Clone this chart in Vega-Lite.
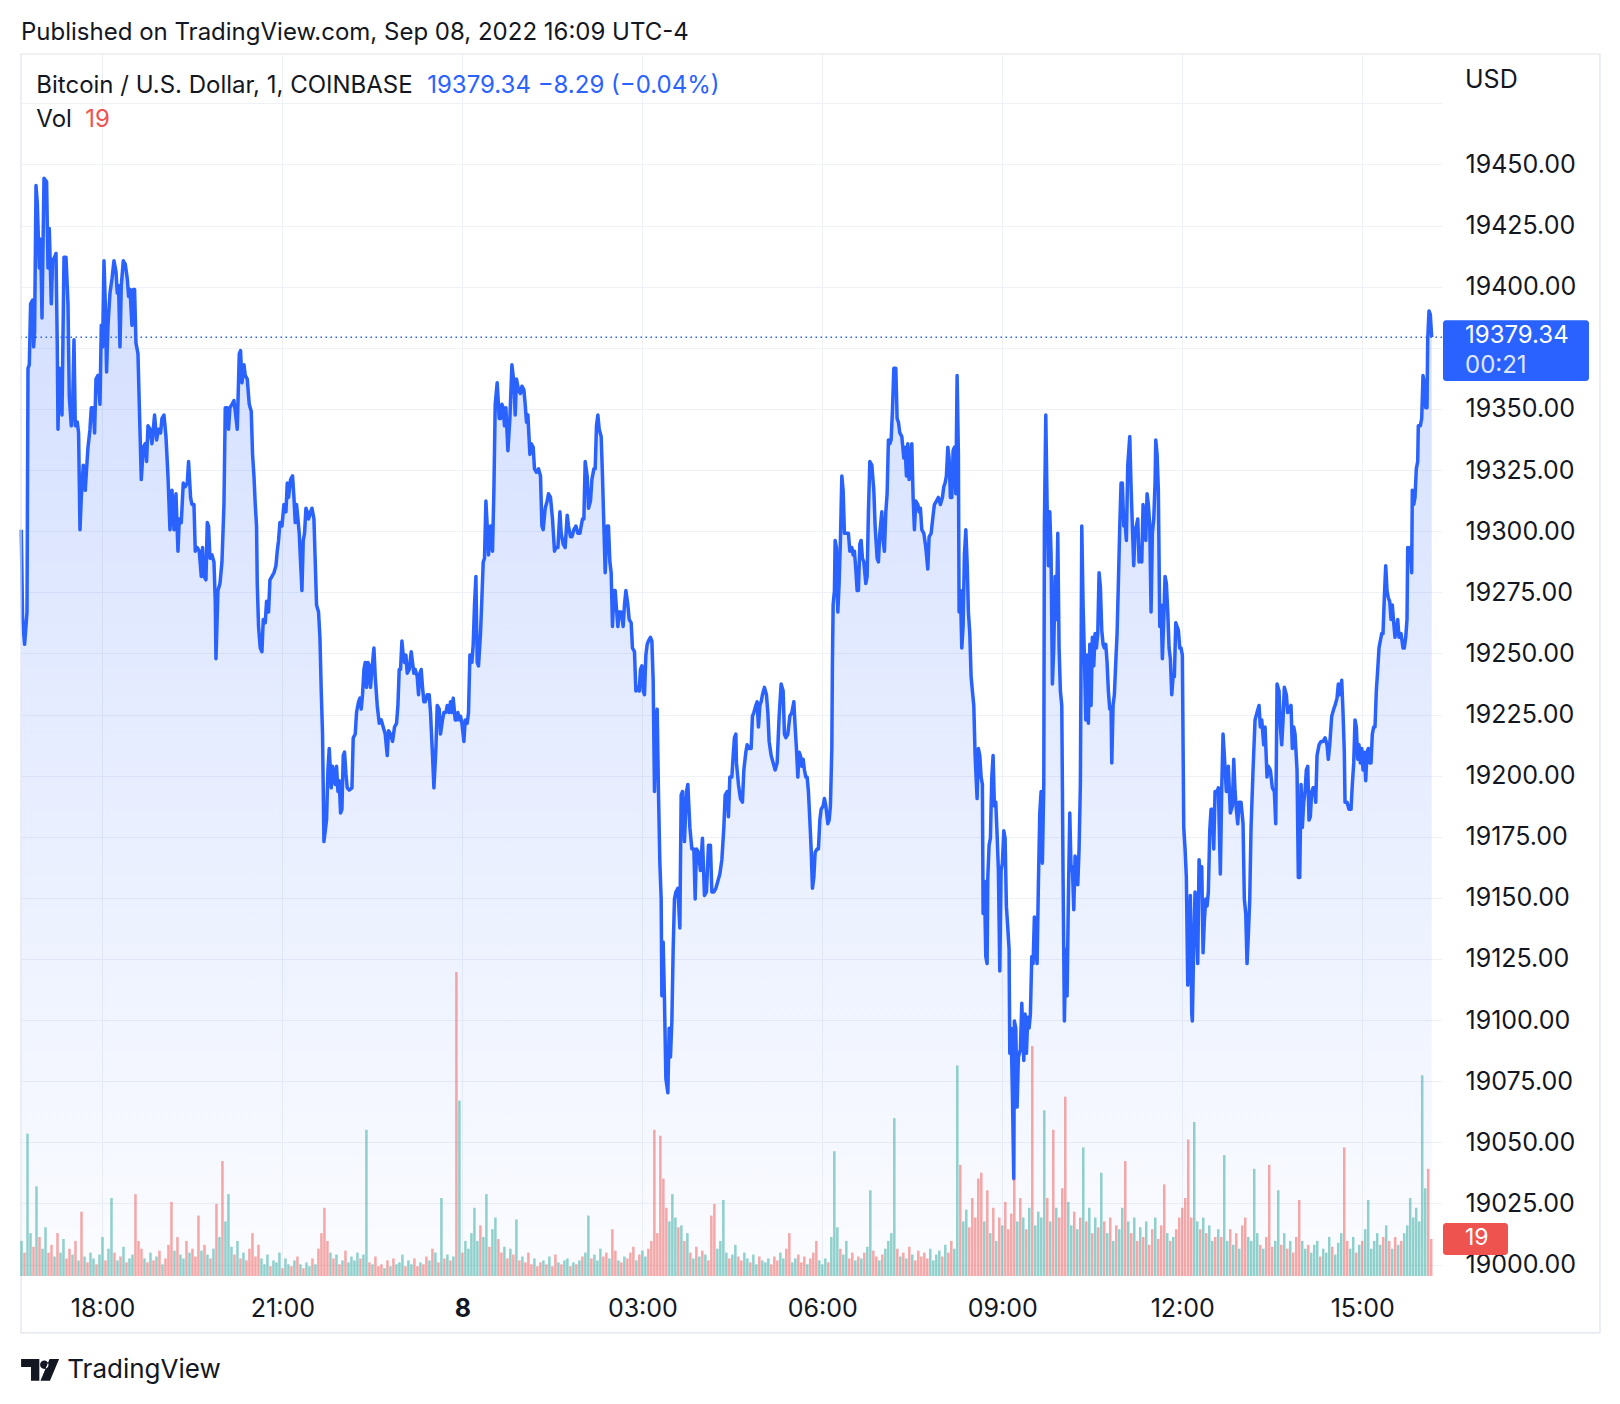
{
"$schema":"https://vega.github.io/schema/vega-lite/v6.json",
"width":1421,"height":1222,
"autosize":{"type":"none"},
"padding":{"left":21,"top":54,"right":178,"bottom":128},
"background":"#ffffff",
"config":{"font":"Inter","view":{"stroke":null},"scale":{"continuousPadding":0}},
"title":{"text":"Published on TradingView.com, Sep 08, 2022 16:09 UTC-4","anchor":"start","frame":"group","orient":"top","fontSize":24,"fontWeight":400,"color":"#131722","font":"Inter","baseline":"middle","offset":22,"dy":26},
"datasets":{
"price":[
{"t":998.8,"p":19300.6},{"t":1000.1,"p":19263.9},{"t":1002.1,"p":19253.7},{"t":1004.5,"p":19266.9},{"t":1005.5,"p":19366.6},{"t":1006.8,"p":19368.1},{"t":1008.1,"p":19393.0},{"t":1010.1,"p":19394.5},{"t":1011.1,"p":19375.4},{"t":1012.1,"p":19381.3},{"t":1013.5,"p":19441.4},{"t":1014.8,"p":19434.1},{"t":1016.8,"p":19407.7},{"t":1018.1,"p":19419.4},{"t":1019.5,"p":19387.2},{"t":1021.5,"p":19444.4},{"t":1024.1,"p":19442.9},{"t":1025.5,"p":19407.7},{"t":1026.8,"p":19423.8},{"t":1028.8,"p":19393.0},{"t":1030.1,"p":19410.6},{"t":1032.1,"p":19412.1},{"t":1033.5,"p":19413.6},{"t":1034.8,"p":19375.4},{"t":1035.5,"p":19341.7},{"t":1036.8,"p":19366.6},{"t":1038.1,"p":19363.7},{"t":1039.5,"p":19347.5},{"t":1041.5,"p":19412.1},{"t":1043.5,"p":19412.1},{"t":1045.5,"p":19393.0},{"t":1046.8,"p":19354.9},{"t":1048.8,"p":19343.1},{"t":1050.1,"p":19350.5},{"t":1051.5,"p":19378.3},{"t":1052.8,"p":19343.1},{"t":1054.8,"p":19344.6},{"t":1056.1,"p":19340.2},{"t":1057.5,"p":19300.6},{"t":1058.8,"p":19313.8},{"t":1060.8,"p":19327.0},{"t":1062.8,"p":19316.7},{"t":1064.1,"p":19325.5},{"t":1065.5,"p":19334.3},{"t":1067.5,"p":19341.7},{"t":1068.8,"p":19350.5},{"t":1070.8,"p":19350.5},{"t":1072.1,"p":19340.2},{"t":1073.5,"p":19362.2},{"t":1075.5,"p":19363.7},{"t":1077.5,"p":19351.9},{"t":1078.8,"p":19384.2},{"t":1080.1,"p":19375.4},{"t":1081.5,"p":19410.6},{"t":1082.8,"p":19393.0},{"t":1084.1,"p":19365.1},{"t":1085.5,"p":19384.2},{"t":1087.5,"p":19397.4},{"t":1089.5,"p":19403.3},{"t":1091.5,"p":19410.6},{"t":1093.5,"p":19406.2},{"t":1094.8,"p":19397.4},{"t":1096.1,"p":19400.4},{"t":1097.5,"p":19375.4},{"t":1098.8,"p":19400.4},{"t":1100.8,"p":19410.6},{"t":1102.8,"p":19409.2},{"t":1104.8,"p":19403.3},{"t":1106.1,"p":19396.0},{"t":1107.5,"p":19398.9},{"t":1109.5,"p":19384.2},{"t":1110.8,"p":19398.9},{"t":1112.1,"p":19398.9},{"t":1113.5,"p":19376.9},{"t":1115.5,"p":19372.5},{"t":1116.8,"p":19351.9},{"t":1118.8,"p":19321.1},{"t":1120.8,"p":19334.3},{"t":1122.8,"p":19335.8},{"t":1124.1,"p":19328.5},{"t":1125.5,"p":19343.1},{"t":1127.5,"p":19341.7},{"t":1129.5,"p":19335.8},{"t":1132.1,"p":19347.5},{"t":1134.1,"p":19337.3},{"t":1136.1,"p":19341.7},{"t":1138.1,"p":19340.2},{"t":1139.5,"p":19346.1},{"t":1141.5,"p":19347.5},{"t":1143.5,"p":19338.7},{"t":1145.5,"p":19322.6},{"t":1147.5,"p":19300.6},{"t":1149.5,"p":19316.7},{"t":1151.5,"p":19300.6},{"t":1153.5,"p":19315.3},{"t":1155.5,"p":19291.8},{"t":1156.8,"p":19305.0},{"t":1158.8,"p":19303.5},{"t":1160.8,"p":19319.7},{"t":1162.8,"p":19318.2},{"t":1164.8,"p":19319.7},{"t":1166.1,"p":19328.5},{"t":1168.1,"p":19313.8},{"t":1169.5,"p":19310.9},{"t":1171.5,"p":19310.9},{"t":1172.8,"p":19291.8},{"t":1174.8,"p":19293.3},{"t":1176.8,"p":19291.8},{"t":1178.8,"p":19281.5},{"t":1180.1,"p":19293.3},{"t":1181.5,"p":19281.5},{"t":1183.5,"p":19280.1},{"t":1184.8,"p":19303.5},{"t":1186.1,"p":19302.1},{"t":1187.5,"p":19288.9},{"t":1189.5,"p":19290.3},{"t":1191.5,"p":19287.4},{"t":1192.8,"p":19271.3},{"t":1193.5,"p":19247.8},{"t":1195.5,"p":19275.7},{"t":1197.5,"p":19278.6},{"t":1199.5,"p":19287.4},{"t":1201.5,"p":19310.9},{"t":1202.8,"p":19350.5},{"t":1204.8,"p":19350.5},{"t":1206.1,"p":19341.7},{"t":1207.5,"p":19350.5},{"t":1209.5,"p":19351.9},{"t":1211.5,"p":19353.4},{"t":1212.8,"p":19349.0},{"t":1214.8,"p":19341.7},{"t":1216.8,"p":19372.5},{"t":1218.1,"p":19373.9},{"t":1219.5,"p":19360.7},{"t":1221.5,"p":19368.1},{"t":1222.8,"p":19363.7},{"t":1224.8,"p":19362.2},{"t":1226.8,"p":19351.9},{"t":1228.8,"p":19349.0},{"t":1230.1,"p":19331.4},{"t":1231.5,"p":19322.6},{"t":1232.8,"p":19310.9},{"t":1234.1,"p":19302.1},{"t":1234.8,"p":19278.6},{"t":1236.1,"p":19261.0},
{"t":1237.8,"p":19252.2},{"t":1239.5,"p":19250.7},{"t":1240.8,"p":19263.9},{"t":1242.8,"p":19262.5},{"t":1244.1,"p":19271.3},{"t":1246.1,"p":19266.9},{"t":1247.5,"p":19280.1},{"t":1249.5,"p":19281.5},{"t":1251.5,"p":19283.0},{"t":1253.5,"p":19285.9},{"t":1254.8,"p":19291.8},{"t":1256.1,"p":19296.2},{"t":1257.5,"p":19303.5},{"t":1259.5,"p":19302.1},{"t":1261.5,"p":19310.9},{"t":1263.5,"p":19307.9},{"t":1264.8,"p":19319.7},{"t":1266.1,"p":19313.8},{"t":1268.1,"p":19321.1},{"t":1270.1,"p":19322.6},{"t":1271.5,"p":19313.8},{"t":1272.8,"p":19303.5},{"t":1274.1,"p":19310.9},{"t":1275.5,"p":19305.0},{"t":1276.8,"p":19299.1},{"t":1278.1,"p":19287.4},{"t":1279.5,"p":19275.7},{"t":1280.8,"p":19296.2},{"t":1282.1,"p":19299.1},{"t":1283.5,"p":19309.4},{"t":1284.8,"p":19307.9},{"t":1286.1,"p":19305.0},{"t":1288.1,"p":19307.9},{"t":1289.5,"p":19309.4},{"t":1291.5,"p":19305.0},{"t":1292.8,"p":19287.4},{"t":1294.1,"p":19269.8},{"t":1296.1,"p":19266.9},{"t":1297.5,"p":19256.6},{"t":1298.8,"p":19234.6},{"t":1300.1,"p":19217.0},{"t":1301.5,"p":19173.0},{"t":1302.8,"p":19177.4},{"t":1304.1,"p":19181.8},{"t":1305.5,"p":19202.3},{"t":1306.8,"p":19211.1},{"t":1308.8,"p":19195.0},{"t":1310.1,"p":19203.8},{"t":1311.5,"p":19199.4},{"t":1312.8,"p":19196.4},{"t":1314.1,"p":19203.8},{"t":1315.5,"p":19193.5},{"t":1316.8,"p":19197.9},{"t":1318.1,"p":19184.7},{"t":1319.5,"p":19186.2},{"t":1320.8,"p":19208.2},{"t":1322.1,"p":19209.6},{"t":1323.5,"p":19200.8},{"t":1324.8,"p":19195.0},{"t":1326.8,"p":19194.1},{"t":1329.5,"p":19195.0},{"t":1330.8,"p":19215.5},{"t":1332.8,"p":19217.0},{"t":1334.1,"p":19225.8},{"t":1336.1,"p":19230.2},{"t":1337.5,"p":19231.7},{"t":1338.8,"p":19227.2},{"t":1340.1,"p":19233.1},{"t":1341.5,"p":19243.4},{"t":1342.8,"p":19246.3},{"t":1344.1,"p":19236.1},{"t":1345.5,"p":19246.3},{"t":1346.8,"p":19244.9},{"t":1348.1,"p":19236.1},{"t":1349.5,"p":19243.4},{"t":1351.5,"p":19252.2},{"t":1352.8,"p":19240.5},{"t":1354.8,"p":19228.7},{"t":1356.8,"p":19221.4},{"t":1358.8,"p":19222.8},{"t":1360.8,"p":19219.9},{"t":1362.8,"p":19217.0},{"t":1364.8,"p":19208.2},{"t":1366.1,"p":19218.4},{"t":1368.1,"p":19217.0},{"t":1370.1,"p":19214.0},{"t":1372.1,"p":19219.9},{"t":1374.1,"p":19221.4},{"t":1375.5,"p":19228.7},{"t":1376.8,"p":19243.4},{"t":1378.1,"p":19243.4},{"t":1379.5,"p":19255.1},{"t":1380.8,"p":19249.3},{"t":1382.1,"p":19246.3},{"t":1383.5,"p":19249.3},{"t":1384.8,"p":19241.9},{"t":1386.8,"p":19243.4},{"t":1388.8,"p":19250.7},{"t":1390.1,"p":19246.3},{"t":1391.5,"p":19241.9},{"t":1392.8,"p":19243.4},{"t":1394.8,"p":19240.5},{"t":1396.1,"p":19233.1},{"t":1397.5,"p":19241.9},{"t":1398.8,"p":19243.4},{"t":1400.1,"p":19236.1},{"t":1401.5,"p":19230.2},{"t":1402.8,"p":19230.2},{"t":1404.8,"p":19233.1},{"t":1406.8,"p":19233.1},{"t":1408.1,"p":19225.8},{"t":1410.1,"p":19208.2},{"t":1411.5,"p":19195.0},{"t":1413.5,"p":19211.1},{"t":1414.8,"p":19228.7},{"t":1416.8,"p":19227.2},{"t":1418.1,"p":19217.0},{"t":1420.1,"p":19222.8},{"t":1421.5,"p":19225.8},{"t":1423.5,"p":19225.8},{"t":1424.8,"p":19228.7},{"t":1426.8,"p":19225.8},{"t":1428.1,"p":19230.2},{"t":1429.5,"p":19225.8},{"t":1430.8,"p":19231.7},{"t":1432.8,"p":19222.8},{"t":1434.1,"p":19222.8},{"t":1435.5,"p":19225.8},{"t":1436.8,"p":19222.8},{"t":1438.1,"p":19224.3},{"t":1439.5,"p":19221.4},{"t":1441.5,"p":19214.0},{"t":1442.8,"p":19222.8},{"t":1444.8,"p":19221.4},{"t":1446.1,"p":19225.8},{"t":1447.5,"p":19249.3},{"t":1449.5,"p":19246.3},{"t":1450.8,"p":19253.7},{"t":1452.1,"p":19269.8},{"t":1453.5,"p":19281.5},{"t":1454.8,"p":19246.3},{"t":1456.1,"p":19244.9},{"t":1458.1,"p":19258.1},{"t":1459.5,"p":19272.7},{"t":1460.8,"p":19287.4},{"t":1462.1,"p":19288.9},{"t":1463.5,"p":19312.3},{"t":1464.8,"p":19302.1},{"t":1466.1,"p":19290.3},{"t":1468.1,"p":19302.1},{"t":1470.1,"p":19291.8},{"t":1471.5,"p":19316.7},{"t":1472.8,"p":19351.9},{"t":1474.8,"p":19360.7},{"t":1476.8,"p":19346.1},
{"t":1478.1,"p":19346.1},{"t":1479.5,"p":19351.9},{"t":1480.8,"p":19350.5},{"t":1482.1,"p":19343.1},{"t":1483.5,"p":19350.5},{"t":1485.5,"p":19332.9},{"t":1487.5,"p":19346.1},{"t":1489.5,"p":19368.1},{"t":1491.5,"p":19360.7},{"t":1492.8,"p":19347.5},{"t":1494.1,"p":19362.2},{"t":1496.1,"p":19357.8},{"t":1498.1,"p":19356.3},{"t":1499.5,"p":19359.3},{"t":1501.5,"p":19357.8},{"t":1502.8,"p":19351.9},{"t":1504.1,"p":19344.6},{"t":1505.5,"p":19347.5},{"t":1507.5,"p":19331.4},{"t":1508.8,"p":19335.8},{"t":1510.8,"p":19334.3},{"t":1512.1,"p":19325.5},{"t":1514.1,"p":19324.1},{"t":1516.1,"p":19325.5},{"t":1518.1,"p":19322.6},{"t":1519.5,"p":19302.1},{"t":1520.8,"p":19300.6},{"t":1522.8,"p":19309.4},{"t":1524.8,"p":19312.3},{"t":1526.1,"p":19315.3},{"t":1528.1,"p":19313.8},{"t":1530.1,"p":19305.0},{"t":1532.1,"p":19291.8},{"t":1533.5,"p":19293.3},{"t":1535.5,"p":19293.3},{"t":1537.5,"p":19307.9},{"t":1538.8,"p":19299.1},{"t":1540.8,"p":19294.7},{"t":1542.8,"p":19293.3},{"t":1544.8,"p":19306.5},{"t":1546.1,"p":19302.1},{"t":1548.1,"p":19297.7},{"t":1549.5,"p":19297.7},{"t":1551.5,"p":19300.6},{"t":1553.5,"p":19302.1},{"t":1555.5,"p":19299.1},{"t":1557.5,"p":19299.1},{"t":1558.8,"p":19302.1},{"t":1560.1,"p":19305.0},{"t":1561.5,"p":19305.0},{"t":1562.8,"p":19328.5},{"t":1564.8,"p":19322.6},{"t":1566.1,"p":19309.4},{"t":1568.1,"p":19312.3},{"t":1569.5,"p":19321.1},{"t":1571.5,"p":19325.5},{"t":1572.8,"p":19325.5},{"t":1574.1,"p":19343.1},{"t":1575.5,"p":19347.5},{"t":1576.8,"p":19341.7},{"t":1578.8,"p":19338.7},{"t":1580.1,"p":19322.6},{"t":1581.5,"p":19302.1},{"t":1582.8,"p":19283.0},{"t":1584.8,"p":19302.1},{"t":1586.1,"p":19302.1},{"t":1587.5,"p":19287.4},{"t":1588.8,"p":19283.0},{"t":1590.1,"p":19261.0},{"t":1591.5,"p":19275.7},{"t":1592.8,"p":19275.7},{"t":1594.1,"p":19268.3},{"t":1595.5,"p":19261.0},{"t":1596.8,"p":19266.9},{"t":1598.8,"p":19266.9},{"t":1600.8,"p":19261.0},{"t":1602.1,"p":19269.8},{"t":1603.5,"p":19275.7},{"t":1605.5,"p":19269.8},{"t":1606.8,"p":19263.9},{"t":1608.8,"p":19262.5},{"t":1610.1,"p":19252.2},{"t":1612.1,"p":19250.7},{"t":1613.5,"p":19234.6},{"t":1615.5,"p":19236.1},{"t":1616.8,"p":19234.6},{"t":1618.1,"p":19243.4},{"t":1619.5,"p":19244.9},{"t":1620.8,"p":19234.6},{"t":1622.1,"p":19233.1},{"t":1623.5,"p":19249.3},{"t":1624.8,"p":19253.7},{"t":1626.1,"p":19255.1},{"t":1628.1,"p":19256.6},{"t":1629.5,"p":19255.1},{"t":1630.8,"p":19239.0},{"t":1632.1,"p":19193.5},{"t":1633.5,"p":19219.9},{"t":1634.8,"p":19227.2},{"t":1636.1,"p":19193.5},{"t":1637.5,"p":19164.2},{"t":1638.8,"p":19149.5},{"t":1639.5,"p":19109.9},{"t":1640.8,"p":19131.9},{"t":1642.1,"p":19108.4},{"t":1643.5,"p":19076.1},{"t":1645.5,"p":19070.3},{"t":1646.8,"p":19096.7},{"t":1648.1,"p":19084.9},{"t":1649.5,"p":19099.6},{"t":1650.8,"p":19128.9},{"t":1652.1,"p":19149.5},{"t":1653.5,"p":19152.4},{"t":1655.5,"p":19153.9},{"t":1657.5,"p":19137.7},{"t":1658.8,"p":19192.0},{"t":1660.1,"p":19193.5},{"t":1662.1,"p":19173.0},{"t":1664.1,"p":19193.5},{"t":1665.5,"p":19196.4},{"t":1667.5,"p":19178.8},{"t":1669.5,"p":19170.0},{"t":1671.5,"p":19170.0},{"t":1672.8,"p":19149.5},{"t":1674.1,"p":19170.0},{"t":1676.1,"p":19168.6},{"t":1678.1,"p":19161.2},{"t":1680.1,"p":19174.4},{"t":1682.1,"p":19151.0},{"t":1684.1,"p":19152.4},{"t":1686.1,"p":19171.5},{"t":1688.1,"p":19171.5},{"t":1689.5,"p":19152.4},{"t":1691.5,"p":19152.4},{"t":1693.5,"p":19153.9},{"t":1695.5,"p":19156.8},{"t":1697.5,"p":19159.8},{"t":1699.5,"p":19165.6},{"t":1701.5,"p":19178.8},{"t":1702.8,"p":19192.0},{"t":1704.8,"p":19193.5},{"t":1706.1,"p":19183.2},{"t":1707.5,"p":19199.4},{"t":1709.5,"p":19199.4},{"t":1710.8,"p":19208.2},{"t":1712.1,"p":19215.5},{"t":1713.5,"p":19217.0},
{"t":1714.1,"p":19205.2},{"t":1716.1,"p":19196.4},{"t":1718.1,"p":19190.6},{"t":1720.1,"p":19189.1},{"t":1721.5,"p":19202.3},{"t":1723.5,"p":19209.6},{"t":1724.8,"p":19212.6},{"t":1726.8,"p":19211.1},{"t":1728.8,"p":19211.1},{"t":1730.1,"p":19224.3},{"t":1731.5,"p":19225.8},{"t":1733.5,"p":19228.7},{"t":1734.8,"p":19230.2},{"t":1736.1,"p":19219.9},{"t":1737.5,"p":19228.7},{"t":1738.8,"p":19230.2},{"t":1740.1,"p":19233.1},{"t":1742.1,"p":19236.1},{"t":1744.1,"p":19233.1},{"t":1745.5,"p":19225.8},{"t":1746.8,"p":19214.0},{"t":1748.8,"p":19208.2},{"t":1750.8,"p":19205.2},{"t":1752.8,"p":19202.3},{"t":1754.8,"p":19205.2},{"t":1756.8,"p":19224.3},{"t":1758.8,"p":19237.5},{"t":1760.8,"p":19234.6},{"t":1762.1,"p":19217.0},{"t":1763.5,"p":19215.5},{"t":1765.5,"p":19217.0},{"t":1767.5,"p":19224.3},{"t":1769.5,"p":19225.8},{"t":1771.5,"p":19230.2},{"t":1772.8,"p":19219.9},{"t":1774.1,"p":19211.1},{"t":1775.5,"p":19199.4},{"t":1776.8,"p":19209.6},{"t":1778.1,"p":19208.2},{"t":1779.5,"p":19203.8},{"t":1780.8,"p":19206.7},{"t":1782.1,"p":19202.3},{"t":1783.5,"p":19199.4},{"t":1784.8,"p":19199.4},{"t":1786.1,"p":19193.5},{"t":1787.5,"p":19181.8},{"t":1788.8,"p":19170.0},{"t":1790.1,"p":19153.9},{"t":1791.5,"p":19158.3},{"t":1792.8,"p":19168.6},{"t":1794.8,"p":19170.0},{"t":1796.1,"p":19170.0},{"t":1797.5,"p":19181.8},{"t":1798.8,"p":19186.2},{"t":1800.8,"p":19187.6},{"t":1802.1,"p":19190.6},{"t":1803.5,"p":19187.6},{"t":1805.5,"p":19180.3},{"t":1806.8,"p":19181.8},{"t":1808.1,"p":19187.6},{"t":1809.5,"p":19211.1},{"t":1810.1,"p":19246.3},{"t":1810.8,"p":19269.8},{"t":1812.1,"p":19275.7},{"t":1812.8,"p":19296.2},{"t":1814.1,"p":19293.3},{"t":1815.5,"p":19266.9},{"t":1816.8,"p":19278.6},{"t":1818.1,"p":19296.2},{"t":1819.5,"p":19322.6},{"t":1820.8,"p":19316.7},{"t":1822.1,"p":19299.1},{"t":1824.1,"p":19299.1},{"t":1826.1,"p":19299.1},{"t":1827.5,"p":19291.8},{"t":1829.5,"p":19293.3},{"t":1830.8,"p":19290.3},{"t":1832.1,"p":19291.8},{"t":1833.5,"p":19284.5},{"t":1834.8,"p":19275.7},{"t":1836.1,"p":19275.7},{"t":1837.5,"p":19294.7},{"t":1838.8,"p":19296.2},{"t":1840.1,"p":19288.9},{"t":1841.5,"p":19287.4},{"t":1843.5,"p":19278.6},{"t":1844.8,"p":19281.5},{"t":1846.1,"p":19307.9},{"t":1847.5,"p":19328.5},{"t":1849.5,"p":19327.0},{"t":1851.5,"p":19316.7},{"t":1852.8,"p":19302.1},{"t":1854.8,"p":19288.9},{"t":1856.1,"p":19287.4},{"t":1857.5,"p":19299.1},{"t":1859.5,"p":19307.9},{"t":1860.8,"p":19296.2},{"t":1862.1,"p":19291.8},{"t":1863.5,"p":19307.9},{"t":1864.8,"p":19315.3},{"t":1866.1,"p":19337.3},{"t":1867.5,"p":19335.8},{"t":1868.8,"p":19337.3},{"t":1870.1,"p":19349.0},{"t":1871.5,"p":19366.6},{"t":1873.5,"p":19366.6},{"t":1874.8,"p":19346.1},{"t":1876.1,"p":19344.6},{"t":1877.5,"p":19340.2},{"t":1879.5,"p":19338.7},{"t":1881.5,"p":19329.9},{"t":1882.8,"p":19334.3},{"t":1884.1,"p":19322.6},{"t":1885.5,"p":19335.8},{"t":1886.8,"p":19321.1},{"t":1888.1,"p":19328.5},{"t":1889.5,"p":19335.8},{"t":1890.8,"p":19313.8},{"t":1892.1,"p":19300.6},{"t":1893.5,"p":19312.3},{"t":1895.5,"p":19310.9},{"t":1896.8,"p":19307.9},{"t":1898.1,"p":19309.4},{"t":1899.5,"p":19300.6},{"t":1901.5,"p":19299.1},{"t":1903.5,"p":19293.3},{"t":1905.5,"p":19284.5},{"t":1906.8,"p":19297.7},{"t":1908.8,"p":19299.1},{"t":1910.8,"p":19306.5},{"t":1912.1,"p":19310.9},{"t":1914.1,"p":19312.3},{"t":1916.1,"p":19313.8},{"t":1918.1,"p":19310.9},{"t":1920.1,"p":19313.8},{"t":1921.5,"p":19318.2},{"t":1922.8,"p":19319.7},{"t":1924.1,"p":19322.6},{"t":1925.5,"p":19334.3},{"t":1926.8,"p":19329.9},{"t":1928.1,"p":19313.8},{"t":1929.5,"p":19313.8},{"t":1930.8,"p":19332.9},{"t":1932.1,"p":19334.3},{"t":1933.5,"p":19315.3},{"t":1934.8,"p":19363.7},{"t":1936.1,"p":19331.4},{"t":1936.8,"p":19266.9},{"t":1938.1,"p":19275.7},{"t":1939.5,"p":19252.2},{"t":1940.8,"p":19261.0},{"t":1942.1,"p":19290.3},{"t":1943.5,"p":19300.6},{"t":1944.8,"p":19287.4},{"t":1946.1,"p":19266.9},{"t":1947.5,"p":19258.1},{"t":1948.8,"p":19240.5},{"t":1950.1,"p":19234.6},{"t":1951.5,"p":19228.7},{"t":1952.8,"p":19208.2},
{"t":1954.8,"p":19190.6},{"t":1956.1,"p":19211.1},{"t":1957.5,"p":19208.2},{"t":1958.8,"p":19199.4},{"t":1960.1,"p":19196.4},{"t":1960.8,"p":19143.6},{"t":1962.1,"p":19156.8},{"t":1963.5,"p":19126.0},{"t":1964.8,"p":19123.1},{"t":1965.5,"p":19158.3},{"t":1966.8,"p":19171.5},{"t":1968.1,"p":19174.4},{"t":1969.5,"p":19199.4},{"t":1970.8,"p":19208.2},{"t":1972.1,"p":19187.6},{"t":1973.5,"p":19189.1},{"t":1974.8,"p":19175.9},{"t":1976.1,"p":19161.2},{"t":1977.5,"p":19120.1},{"t":1978.8,"p":19161.2},{"t":1980.1,"p":19164.2},{"t":1981.5,"p":19177.4},{"t":1982.8,"p":19174.4},{"t":1984.1,"p":19146.6},{"t":1985.5,"p":19137.7},{"t":1986.8,"p":19128.9},{"t":1987.5,"p":19086.4},{"t":1988.8,"p":19096.7},{"t":1990.1,"p":19070.3},{"t":1991.5,"p":19035.1},{"t":1992.1,"p":19099.6},{"t":1993.5,"p":19096.7},{"t":1994.8,"p":19064.4},{"t":1996.1,"p":19084.9},{"t":1998.1,"p":19087.9},{"t":1999.5,"p":19106.9},{"t":2001.5,"p":19083.5},{"t":2002.8,"p":19102.5},{"t":2004.1,"p":19086.4},{"t":2005.5,"p":19101.1},{"t":2006.8,"p":19096.7},{"t":2008.1,"p":19102.5},{"t":2009.5,"p":19126.0},{"t":2010.8,"p":19123.1},{"t":2012.1,"p":19142.2},{"t":2013.5,"p":19128.9},{"t":2014.8,"p":19123.1},{"t":2016.1,"p":19155.4},{"t":2017.5,"p":19184.7},{"t":2018.8,"p":19193.5},{"t":2020.1,"p":19164.2},{"t":2021.5,"p":19196.4},{"t":2022.1,"p":19302.1},{"t":2023.5,"p":19347.5},{"t":2024.8,"p":19310.9},{"t":2026.1,"p":19285.9},{"t":2027.5,"p":19307.9},{"t":2028.8,"p":19290.3},{"t":2030.1,"p":19237.5},{"t":2031.5,"p":19252.2},{"t":2032.8,"p":19281.5},{"t":2034.1,"p":19263.9},{"t":2035.5,"p":19299.1},{"t":2036.8,"p":19252.2},{"t":2038.1,"p":19234.6},{"t":2039.5,"p":19228.7},{"t":2040.8,"p":19158.3},{"t":2042.1,"p":19099.6},{"t":2043.5,"p":19128.9},{"t":2044.8,"p":19109.9},{"t":2046.1,"p":19149.5},{"t":2047.5,"p":19184.7},{"t":2048.8,"p":19161.2},{"t":2050.1,"p":19162.7},{"t":2051.5,"p":19145.1},{"t":2052.8,"p":19167.1},{"t":2054.1,"p":19164.2},{"t":2055.5,"p":19155.4},{"t":2056.8,"p":19170.0},{"t":2058.1,"p":19196.4},{"t":2059.5,"p":19302.1},{"t":2060.8,"p":19269.8},{"t":2062.1,"p":19249.3},{"t":2063.5,"p":19222.8},{"t":2064.8,"p":19249.3},{"t":2066.1,"p":19221.4},{"t":2067.5,"p":19253.7},{"t":2068.8,"p":19228.7},{"t":2070.1,"p":19256.6},{"t":2071.5,"p":19244.9},{"t":2072.8,"p":19258.1},{"t":2074.1,"p":19252.2},{"t":2075.5,"p":19258.1},{"t":2076.8,"p":19283.0},{"t":2078.1,"p":19277.1},{"t":2079.5,"p":19259.5},{"t":2080.8,"p":19253.7},{"t":2082.1,"p":19252.2},{"t":2083.5,"p":19253.7},{"t":2084.8,"p":19246.3},{"t":2086.1,"p":19234.6},{"t":2087.5,"p":19227.2},{"t":2088.8,"p":19227.2},{"t":2089.5,"p":19205.2},{"t":2090.8,"p":19228.7},{"t":2092.1,"p":19233.1},{"t":2093.5,"p":19246.3},{"t":2094.8,"p":19258.1},{"t":2096.1,"p":19278.6},{"t":2097.5,"p":19302.1},{"t":2098.8,"p":19319.7},{"t":2100.1,"p":19319.7},{"t":2101.5,"p":19302.1},{"t":2102.8,"p":19303.5},{"t":2104.1,"p":19296.2},{"t":2105.5,"p":19327.0},{"t":2107.5,"p":19338.7},{"t":2108.8,"p":19318.2},{"t":2110.1,"p":19302.1},{"t":2111.5,"p":19285.9},{"t":2112.8,"p":19300.6},{"t":2114.1,"p":19302.1},{"t":2115.5,"p":19305.0},{"t":2116.8,"p":19287.4},{"t":2118.1,"p":19293.3},{"t":2119.5,"p":19287.4},{"t":2120.8,"p":19310.9},{"t":2122.1,"p":19302.1},{"t":2123.5,"p":19296.2},{"t":2124.8,"p":19315.3},{"t":2126.1,"p":19310.9},{"t":2127.5,"p":19302.1},{"t":2128.8,"p":19266.9},{"t":2130.1,"p":19299.1},{"t":2131.5,"p":19305.0},{"t":2132.8,"p":19319.7},{"t":2133.5,"p":19337.3},{"t":2134.8,"p":19331.4},{"t":2136.1,"p":19316.7},{"t":2137.5,"p":19261.0},{"t":2138.8,"p":19269.8},{"t":2140.1,"p":19247.8},{"t":2141.5,"p":19263.9},{"t":2142.8,"p":19281.5},{"t":2144.1,"p":19278.6},{"t":2145.5,"p":19266.9},{"t":2146.8,"p":19252.2},{"t":2148.1,"p":19247.8},{"t":2149.5,"p":19233.1},{"t":2150.8,"p":19240.5},{"t":2152.1,"p":19240.5},{"t":2153.5,"p":19262.5},{"t":2154.8,"p":19261.0},{"t":2156.1,"p":19259.5},{"t":2157.5,"p":19252.2},{"t":2158.8,"p":19252.2},{"t":2160.1,"p":19249.3},{"t":2161.5,"p":19178.8},{"t":2162.8,"p":19170.0},{"t":2164.1,"p":19158.3},{"t":2165.5,"p":19114.3},{"t":2166.8,"p":19131.9},{"t":2168.1,"p":19151.0},{"t":2169.5,"p":19102.5},{"t":2170.1,"p":19099.6},{"t":2171.5,"p":19131.9},{"t":2172.8,"p":19152.4},{"t":2174.1,"p":19140.7},{"t":2175.5,"p":19123.1},{"t":2176.8,"p":19165.6},{"t":2178.1,"p":19158.3},{"t":2179.5,"p":19162.7},{"t":2180.8,"p":19127.5},{"t":2182.1,"p":19140.7},{"t":2183.5,"p":19149.5},{"t":2184.8,"p":19146.6},{"t":2186.1,"p":19152.4},{"t":2187.5,"p":19177.4},{"t":2188.8,"p":19186.2},{"t":2190.1,"p":19186.2},{"t":2191.5,"p":19170.0},{"t":2192.8,"p":19193.5},{"t":2194.8,"p":19193.5},{"t":2196.1,"p":19195.0},
{"t":2198.1,"p":19159.8},{"t":2199.5,"p":19195.0},{"t":2200.8,"p":19217.0},{"t":2202.1,"p":19208.2},{"t":2204.1,"p":19193.5},{"t":2206.1,"p":19203.8},{"t":2208.1,"p":19184.7},{"t":2210.1,"p":19187.6},{"t":2211.5,"p":19206.7},{"t":2212.8,"p":19193.5},{"t":2214.1,"p":19186.2},{"t":2215.5,"p":19180.3},{"t":2216.8,"p":19189.1},{"t":2218.8,"p":19189.1},{"t":2220.8,"p":19180.3},{"t":2222.1,"p":19149.5},{"t":2223.5,"p":19143.6},{"t":2224.8,"p":19123.1},{"t":2226.1,"p":19134.8},{"t":2227.5,"p":19149.5},{"t":2228.8,"p":19178.8},{"t":2230.8,"p":19202.3},{"t":2232.8,"p":19222.8},{"t":2234.8,"p":19225.8},{"t":2236.8,"p":19228.7},{"t":2238.1,"p":19219.9},{"t":2239.5,"p":19222.8},{"t":2241.5,"p":19212.6},{"t":2242.8,"p":19219.9},{"t":2244.8,"p":19199.4},{"t":2246.1,"p":19203.8},{"t":2248.1,"p":19202.3},{"t":2250.1,"p":19195.0},{"t":2252.1,"p":19193.5},{"t":2253.5,"p":19180.3},{"t":2254.8,"p":19237.5},{"t":2256.8,"p":19234.6},{"t":2258.1,"p":19219.9},{"t":2259.5,"p":19212.6},{"t":2260.8,"p":19222.8},{"t":2262.1,"p":19236.1},{"t":2264.1,"p":19233.1},{"t":2265.5,"p":19225.8},{"t":2266.8,"p":19227.2},{"t":2268.8,"p":19228.7},{"t":2270.1,"p":19211.1},{"t":2271.5,"p":19219.9},{"t":2272.8,"p":19217.0},{"t":2274.8,"p":19202.3},{"t":2276.1,"p":19158.3},{"t":2277.5,"p":19158.3},{"t":2278.8,"p":19196.4},{"t":2280.1,"p":19178.8},{"t":2281.5,"p":19189.1},{"t":2282.8,"p":19193.5},{"t":2284.1,"p":19202.3},{"t":2285.5,"p":19203.8},{"t":2286.8,"p":19181.8},{"t":2288.1,"p":19183.2},{"t":2289.5,"p":19193.5},{"t":2290.8,"p":19195.0},{"t":2292.1,"p":19195.0},{"t":2293.5,"p":19189.1},{"t":2294.8,"p":19208.2},{"t":2296.8,"p":19212.6},{"t":2298.8,"p":19214.0},{"t":2300.8,"p":19214.0},{"t":2302.8,"p":19215.5},{"t":2304.8,"p":19212.6},{"t":2306.1,"p":19206.7},{"t":2307.5,"p":19212.6},{"t":2309.5,"p":19224.3},{"t":2311.5,"p":19227.2},{"t":2312.8,"p":19228.7},{"t":2314.8,"p":19231.7},{"t":2316.1,"p":19237.5},{"t":2317.5,"p":19233.1},{"t":2319.5,"p":19239.0},{"t":2320.8,"p":19225.8},{"t":2322.1,"p":19209.6},{"t":2322.8,"p":19189.1},{"t":2324.8,"p":19189.1},{"t":2326.8,"p":19186.2},{"t":2328.8,"p":19186.2},{"t":2330.1,"p":19196.4},{"t":2331.5,"p":19205.2},{"t":2332.8,"p":19222.8},{"t":2334.1,"p":19219.9},{"t":2335.5,"p":19206.7},{"t":2336.8,"p":19212.6},{"t":2338.1,"p":19205.2},{"t":2339.5,"p":19211.1},{"t":2340.8,"p":19202.3},{"t":2342.1,"p":19209.6},{"t":2343.5,"p":19197.9},{"t":2344.8,"p":19209.6},{"t":2346.1,"p":19211.1},{"t":2347.5,"p":19205.2},{"t":2348.8,"p":19205.2},{"t":2350.1,"p":19217.0},{"t":2351.5,"p":19219.9},{"t":2352.8,"p":19219.9},{"t":2354.1,"p":19234.6},{"t":2355.5,"p":19243.4},{"t":2356.8,"p":19252.2},{"t":2358.1,"p":19255.1},{"t":2359.5,"p":19258.1},{"t":2360.8,"p":19258.1},{"t":2362.1,"p":19272.7},{"t":2363.5,"p":19285.9},{"t":2364.8,"p":19275.7},{"t":2366.1,"p":19272.7},{"t":2367.5,"p":19271.3},{"t":2368.8,"p":19263.9},{"t":2370.1,"p":19269.8},{"t":2371.5,"p":19262.5},{"t":2372.8,"p":19256.6},{"t":2374.1,"p":19259.5},{"t":2375.5,"p":19263.9},{"t":2376.8,"p":19256.6},{"t":2378.8,"p":19258.1},{"t":2380.8,"p":19252.2},{"t":2382.1,"p":19252.2},{"t":2383.5,"p":19256.6},{"t":2384.8,"p":19263.9},{"t":2385.5,"p":19293.3},{"t":2386.8,"p":19291.8},{"t":2388.1,"p":19293.3},{"t":2389.5,"p":19283.0},{"t":2390.1,"p":19316.7},{"t":2391.5,"p":19310.9},{"t":2392.8,"p":19313.8},{"t":2394.1,"p":19325.5},{"t":2395.5,"p":19328.5},{"t":2396.1,"p":19343.1},{"t":2398.1,"p":19343.1},{"t":2399.5,"p":19346.1},{"t":2400.8,"p":19363.7},{"t":2402.1,"p":19360.7},{"t":2403.5,"p":19350.5},{"t":2404.8,"p":19350.5},{"t":2405.5,"p":19378.3},{"t":2406.8,"p":19390.1},{"t":2408.1,"p":19388.6},{"t":2409.5,"p":19379.34}
],
"vol":[
{"t":999,"v":18,"d":"u"},{"t":1002,"v":12,"d":"d"},{"t":1005,"v":73,"d":"u"},{"t":1008,"v":22,"d":"u"},{"t":1011,"v":15,"d":"d"},{"t":1014,"v":46,"d":"u"},{"t":1017,"v":20,"d":"d"},{"t":1020,"v":14,"d":"u"},{"t":1023,"v":25,"d":"u"},{"t":1026,"v":12,"d":"d"},
{"t":1029,"v":16,"d":"d"},{"t":1032,"v":10,"d":"u"},{"t":1035,"v":22,"d":"d"},{"t":1038,"v":12,"d":"u"},{"t":1041,"v":19,"d":"u"},{"t":1044,"v":9,"d":"d"},{"t":1047,"v":14,"d":"d"},{"t":1050,"v":11,"d":"u"},{"t":1053,"v":18,"d":"d"},{"t":1056,"v":8,"d":"u"},
{"t":1059,"v":33,"d":"d"},{"t":1062,"v":10,"d":"u"},{"t":1065,"v":7,"d":"d"},{"t":1068,"v":12,"d":"u"},{"t":1071,"v":9,"d":"u"},{"t":1074,"v":6,"d":"d"},{"t":1077,"v":11,"d":"u"},{"t":1080,"v":20,"d":"u"},{"t":1083,"v":8,"d":"d"},{"t":1086,"v":14,"d":"u"},
{"t":1089,"v":40,"d":"u"},{"t":1092,"v":12,"d":"d"},{"t":1095,"v":8,"d":"u"},{"t":1098,"v":10,"d":"d"},{"t":1101,"v":15,"d":"u"},{"t":1104,"v":7,"d":"d"},{"t":1107,"v":9,"d":"u"},{"t":1110,"v":11,"d":"u"},{"t":1113,"v":42,"d":"d"},{"t":1116,"v":18,"d":"d"},
{"t":1119,"v":14,"d":"d"},{"t":1122,"v":9,"d":"u"},{"t":1125,"v":7,"d":"d"},{"t":1128,"v":12,"d":"u"},{"t":1131,"v":8,"d":"d"},{"t":1134,"v":10,"d":"u"},{"t":1137,"v":13,"d":"d"},{"t":1140,"v":6,"d":"u"},{"t":1143,"v":9,"d":"d"},{"t":1146,"v":16,"d":"d"},
{"t":1149,"v":38,"d":"d"},{"t":1152,"v":13,"d":"u"},{"t":1155,"v":20,"d":"d"},{"t":1158,"v":11,"d":"u"},{"t":1161,"v":9,"d":"u"},{"t":1164,"v":18,"d":"d"},{"t":1167,"v":12,"d":"u"},{"t":1170,"v":14,"d":"d"},{"t":1173,"v":10,"d":"d"},{"t":1176,"v":31,"d":"d"},
{"t":1179,"v":13,"d":"u"},{"t":1182,"v":16,"d":"d"},{"t":1185,"v":11,"d":"u"},{"t":1188,"v":9,"d":"d"},{"t":1191,"v":14,"d":"u"},{"t":1194,"v":37,"d":"d"},{"t":1197,"v":20,"d":"u"},{"t":1200,"v":59,"d":"d"},{"t":1203,"v":28,"d":"u"},{"t":1206,"v":42,"d":"u"},
{"t":1209,"v":15,"d":"u"},{"t":1212,"v":11,"d":"d"},{"t":1215,"v":18,"d":"u"},{"t":1218,"v":9,"d":"d"},{"t":1221,"v":12,"d":"u"},{"t":1224,"v":8,"d":"d"},{"t":1227,"v":14,"d":"d"},{"t":1230,"v":22,"d":"d"},{"t":1233,"v":10,"d":"d"},{"t":1236,"v":16,"d":"d"},
{"t":1239,"v":9,"d":"u"},{"t":1242,"v":6,"d":"u"},{"t":1245,"v":11,"d":"u"},{"t":1248,"v":5,"d":"d"},{"t":1251,"v":8,"d":"u"},{"t":1254,"v":7,"d":"u"},{"t":1257,"v":12,"d":"u"},{"t":1260,"v":4,"d":"d"},{"t":1263,"v":9,"d":"u"},{"t":1266,"v":6,"d":"u"},
{"t":1269,"v":5,"d":"d"},{"t":1272,"v":8,"d":"u"},{"t":1275,"v":10,"d":"d"},{"t":1278,"v":6,"d":"u"},{"t":1281,"v":4,"d":"d"},{"t":1284,"v":7,"d":"u"},{"t":1287,"v":5,"d":"u"},{"t":1290,"v":9,"d":"d"},{"t":1293,"v":6,"d":"u"},{"t":1296,"v":14,"d":"d"},
{"t":1299,"v":22,"d":"d"},{"t":1302,"v":35,"d":"d"},{"t":1305,"v":18,"d":"d"},{"t":1308,"v":12,"d":"u"},{"t":1311,"v":9,"d":"d"},{"t":1314,"v":11,"d":"u"},{"t":1317,"v":6,"d":"d"},{"t":1320,"v":8,"d":"u"},{"t":1323,"v":13,"d":"d"},{"t":1326,"v":7,"d":"u"},
{"t":1329,"v":10,"d":"u"},{"t":1332,"v":8,"d":"u"},{"t":1335,"v":12,"d":"u"},{"t":1338,"v":9,"d":"d"},{"t":1341,"v":11,"d":"u"},{"t":1344,"v":75,"d":"u"},{"t":1347,"v":7,"d":"d"},{"t":1350,"v":6,"d":"u"},{"t":1353,"v":10,"d":"d"},{"t":1356,"v":5,"d":"d"},
{"t":1359,"v":6,"d":"d"},{"t":1362,"v":4,"d":"u"},{"t":1365,"v":8,"d":"d"},{"t":1368,"v":5,"d":"u"},{"t":1371,"v":9,"d":"d"},{"t":1374,"v":6,"d":"u"},{"t":1377,"v":7,"d":"u"},{"t":1380,"v":11,"d":"u"},{"t":1383,"v":5,"d":"d"},{"t":1386,"v":8,"d":"u"},
{"t":1389,"v":6,"d":"u"},{"t":1392,"v":9,"d":"d"},{"t":1395,"v":5,"d":"d"},{"t":1398,"v":7,"d":"u"},{"t":1401,"v":6,"d":"d"},{"t":1404,"v":10,"d":"d"},{"t":1407,"v":8,"d":"u"},{"t":1410,"v":14,"d":"d"},{"t":1413,"v":12,"d":"u"},{"t":1416,"v":7,"d":"d"},
{"t":1419,"v":40,"d":"u"},{"t":1422,"v":9,"d":"d"},{"t":1425,"v":11,"d":"u"},{"t":1428,"v":8,"d":"d"},{"t":1431,"v":10,"d":"u"},{"t":1434,"v":156,"d":"d"},{"t":1437,"v":90,"d":"u"},{"t":1440,"v":12,"d":"d"},{"t":1443,"v":18,"d":"u"},{"t":1446,"v":14,"d":"u"},
{"t":1449,"v":22,"d":"u"},{"t":1452,"v":35,"d":"u"},{"t":1455,"v":18,"d":"u"},{"t":1458,"v":26,"d":"d"},{"t":1461,"v":20,"d":"u"},{"t":1464,"v":42,"d":"u"},{"t":1467,"v":15,"d":"d"},{"t":1470,"v":24,"d":"u"},{"t":1473,"v":30,"d":"u"},{"t":1476,"v":19,"d":"d"},
{"t":1479,"v":12,"d":"d"},{"t":1482,"v":15,"d":"u"},{"t":1485,"v":9,"d":"d"},{"t":1488,"v":14,"d":"u"},{"t":1491,"v":11,"d":"d"},{"t":1494,"v":29,"d":"u"},{"t":1497,"v":8,"d":"d"},{"t":1500,"v":10,"d":"u"},{"t":1503,"v":7,"d":"d"},{"t":1506,"v":12,"d":"d"},
{"t":1509,"v":6,"d":"d"},{"t":1512,"v":9,"d":"u"},{"t":1515,"v":5,"d":"d"},{"t":1518,"v":7,"d":"d"},{"t":1521,"v":8,"d":"u"},{"t":1524,"v":6,"d":"d"},{"t":1527,"v":10,"d":"u"},{"t":1530,"v":5,"d":"d"},{"t":1533,"v":11,"d":"d"},{"t":1536,"v":7,"d":"u"},
{"t":1539,"v":6,"d":"d"},{"t":1542,"v":8,"d":"u"},{"t":1545,"v":9,"d":"u"},{"t":1548,"v":5,"d":"d"},{"t":1551,"v":7,"d":"u"},{"t":1554,"v":6,"d":"d"},{"t":1557,"v":8,"d":"u"},{"t":1560,"v":10,"d":"d"},{"t":1563,"v":12,"d":"u"},{"t":1566,"v":31,"d":"u"},
{"t":1569,"v":9,"d":"d"},{"t":1572,"v":11,"d":"u"},{"t":1575,"v":8,"d":"u"},{"t":1578,"v":14,"d":"u"},{"t":1581,"v":10,"d":"d"},{"t":1584,"v":12,"d":"d"},{"t":1587,"v":9,"d":"u"},{"t":1590,"v":24,"d":"d"},{"t":1593,"v":13,"d":"d"},{"t":1596,"v":8,"d":"u"},
{"t":1599,"v":7,"d":"d"},{"t":1602,"v":10,"d":"u"},{"t":1605,"v":9,"d":"d"},{"t":1608,"v":12,"d":"d"},{"t":1611,"v":15,"d":"d"},{"t":1614,"v":8,"d":"u"},{"t":1617,"v":11,"d":"d"},{"t":1620,"v":13,"d":"u"},{"t":1623,"v":10,"d":"u"},{"t":1626,"v":14,"d":"d"},
{"t":1629,"v":18,"d":"d"},{"t":1632,"v":75,"d":"d"},{"t":1635,"v":22,"d":"d"},{"t":1638,"v":72,"d":"d"},{"t":1641,"v":50,"d":"d"},{"t":1644,"v":35,"d":"d"},{"t":1647,"v":28,"d":"u"},{"t":1650,"v":42,"d":"u"},{"t":1653,"v":30,"d":"u"},{"t":1656,"v":25,"d":"d"},
{"t":1659,"v":26,"d":"u"},{"t":1662,"v":18,"d":"d"},{"t":1665,"v":22,"d":"u"},{"t":1668,"v":12,"d":"d"},{"t":1671,"v":9,"d":"u"},{"t":1674,"v":15,"d":"d"},{"t":1677,"v":10,"d":"u"},{"t":1680,"v":13,"d":"d"},{"t":1683,"v":11,"d":"u"},{"t":1686,"v":8,"d":"d"},
{"t":1689,"v":31,"d":"d"},{"t":1692,"v":37,"d":"d"},{"t":1695,"v":14,"d":"u"},{"t":1698,"v":18,"d":"u"},{"t":1701,"v":39,"d":"u"},{"t":1704,"v":12,"d":"u"},{"t":1707,"v":9,"d":"d"},{"t":1710,"v":11,"d":"u"},{"t":1713,"v":16,"d":"u"},{"t":1716,"v":10,"d":"d"},
{"t":1719,"v":8,"d":"d"},{"t":1722,"v":12,"d":"u"},{"t":1725,"v":9,"d":"u"},{"t":1728,"v":7,"d":"d"},{"t":1731,"v":11,"d":"u"},{"t":1734,"v":6,"d":"u"},{"t":1737,"v":10,"d":"d"},{"t":1740,"v":8,"d":"u"},{"t":1743,"v":7,"d":"u"},{"t":1746,"v":9,"d":"u"},
{"t":1749,"v":6,"d":"d"},{"t":1752,"v":10,"d":"d"},{"t":1755,"v":8,"d":"d"},{"t":1758,"v":12,"d":"u"},{"t":1761,"v":9,"d":"u"},{"t":1764,"v":14,"d":"d"},{"t":1767,"v":22,"d":"d"},{"t":1770,"v":7,"d":"u"},{"t":1773,"v":9,"d":"u"},{"t":1776,"v":11,"d":"d"},
{"t":1779,"v":7,"d":"d"},{"t":1782,"v":10,"d":"d"},{"t":1785,"v":6,"d":"u"},{"t":1788,"v":9,"d":"d"},{"t":1791,"v":12,"d":"d"},{"t":1794,"v":18,"d":"d"},{"t":1797,"v":8,"d":"u"},{"t":1800,"v":6,"d":"u"},{"t":1803,"v":9,"d":"u"},{"t":1806,"v":7,"d":"d"},
{"t":1809,"v":20,"d":"u"},{"t":1812,"v":64,"d":"u"},{"t":1815,"v":25,"d":"u"},{"t":1818,"v":14,"d":"d"},{"t":1821,"v":11,"d":"u"},{"t":1824,"v":18,"d":"u"},{"t":1827,"v":9,"d":"d"},{"t":1830,"v":12,"d":"d"},{"t":1833,"v":8,"d":"u"},{"t":1836,"v":10,"d":"d"},
{"t":1839,"v":9,"d":"u"},{"t":1842,"v":12,"d":"d"},{"t":1845,"v":15,"d":"u"},{"t":1848,"v":44,"d":"u"},{"t":1851,"v":13,"d":"d"},{"t":1854,"v":10,"d":"d"},{"t":1857,"v":8,"d":"u"},{"t":1860,"v":11,"d":"d"},{"t":1863,"v":14,"d":"u"},{"t":1866,"v":18,"d":"u"},
{"t":1869,"v":22,"d":"u"},{"t":1872,"v":81,"d":"u"},{"t":1875,"v":14,"d":"d"},{"t":1878,"v":10,"d":"u"},{"t":1881,"v":12,"d":"d"},{"t":1884,"v":9,"d":"u"},{"t":1887,"v":15,"d":"d"},{"t":1890,"v":11,"d":"u"},{"t":1893,"v":8,"d":"d"},{"t":1896,"v":13,"d":"d"},
{"t":1899,"v":10,"d":"d"},{"t":1902,"v":12,"d":"d"},{"t":1905,"v":9,"d":"d"},{"t":1908,"v":14,"d":"u"},{"t":1911,"v":8,"d":"u"},{"t":1914,"v":11,"d":"u"},{"t":1917,"v":13,"d":"u"},{"t":1920,"v":10,"d":"d"},{"t":1923,"v":16,"d":"u"},{"t":1926,"v":12,"d":"d"},
{"t":1929,"v":18,"d":"d"},{"t":1932,"v":14,"d":"u"},{"t":1935,"v":108,"d":"u"},{"t":1938,"v":57,"d":"d"},{"t":1941,"v":28,"d":"u"},{"t":1944,"v":34,"d":"u"},{"t":1947,"v":25,"d":"d"},{"t":1950,"v":40,"d":"d"},{"t":1953,"v":30,"d":"d"},{"t":1956,"v":50,"d":"d"},
{"t":1959,"v":53,"d":"d"},{"t":1962,"v":28,"d":"u"},{"t":1965,"v":44,"d":"d"},{"t":1968,"v":22,"d":"u"},{"t":1971,"v":35,"d":"d"},{"t":1974,"v":18,"d":"u"},{"t":1977,"v":30,"d":"d"},{"t":1980,"v":26,"d":"u"},{"t":1983,"v":38,"d":"d"},{"t":1986,"v":24,"d":"d"},
{"t":1989,"v":32,"d":"d"},{"t":1992,"v":50,"d":"d"},{"t":1995,"v":28,"d":"u"},{"t":1998,"v":40,"d":"d"},{"t":2001,"v":30,"d":"u"},{"t":2004,"v":24,"d":"d"},{"t":2007,"v":35,"d":"u"},{"t":2010,"v":118,"d":"d"},{"t":2013,"v":26,"d":"u"},{"t":2016,"v":33,"d":"u"},
{"t":2019,"v":30,"d":"u"},{"t":2022,"v":85,"d":"u"},{"t":2025,"v":40,"d":"d"},{"t":2028,"v":28,"d":"u"},{"t":2031,"v":75,"d":"d"},{"t":2034,"v":35,"d":"u"},{"t":2037,"v":30,"d":"d"},{"t":2040,"v":45,"d":"d"},{"t":2043,"v":92,"d":"d"},{"t":2046,"v":38,"d":"u"},
{"t":2049,"v":26,"d":"u"},{"t":2052,"v":33,"d":"d"},{"t":2055,"v":24,"d":"u"},{"t":2058,"v":30,"d":"d"},{"t":2061,"v":66,"d":"u"},{"t":2064,"v":28,"d":"d"},{"t":2067,"v":35,"d":"u"},{"t":2070,"v":22,"d":"d"},{"t":2073,"v":30,"d":"u"},{"t":2076,"v":25,"d":"d"},
{"t":2079,"v":53,"d":"u"},{"t":2082,"v":28,"d":"d"},{"t":2085,"v":22,"d":"u"},{"t":2088,"v":30,"d":"d"},{"t":2091,"v":18,"d":"u"},{"t":2094,"v":26,"d":"d"},{"t":2097,"v":24,"d":"u"},{"t":2100,"v":35,"d":"u"},{"t":2103,"v":59,"d":"d"},{"t":2106,"v":28,"d":"u"},
{"t":2109,"v":22,"d":"d"},{"t":2112,"v":30,"d":"u"},{"t":2115,"v":18,"d":"d"},{"t":2118,"v":25,"d":"u"},{"t":2121,"v":20,"d":"d"},{"t":2124,"v":28,"d":"u"},{"t":2127,"v":16,"d":"d"},{"t":2130,"v":24,"d":"d"},{"t":2133,"v":30,"d":"u"},{"t":2136,"v":19,"d":"d"},
{"t":2139,"v":26,"d":"d"},{"t":2142,"v":47,"d":"d"},{"t":2145,"v":22,"d":"u"},{"t":2148,"v":18,"d":"d"},{"t":2151,"v":20,"d":"u"},{"t":2154,"v":24,"d":"d"},{"t":2157,"v":30,"d":"d"},{"t":2160,"v":35,"d":"d"},{"t":2163,"v":40,"d":"d"},{"t":2166,"v":70,"d":"d"},
{"t":2169,"v":30,"d":"d"},{"t":2172,"v":79,"d":"u"},{"t":2175,"v":28,"d":"u"},{"t":2178,"v":24,"d":"d"},{"t":2181,"v":30,"d":"u"},{"t":2184,"v":22,"d":"d"},{"t":2187,"v":26,"d":"u"},{"t":2190,"v":18,"d":"u"},{"t":2193,"v":20,"d":"d"},{"t":2196,"v":24,"d":"u"},
{"t":2199,"v":20,"d":"d"},{"t":2202,"v":62,"d":"u"},{"t":2205,"v":18,"d":"u"},{"t":2208,"v":24,"d":"d"},{"t":2211,"v":16,"d":"u"},{"t":2214,"v":22,"d":"d"},{"t":2217,"v":14,"d":"u"},{"t":2220,"v":26,"d":"d"},{"t":2223,"v":30,"d":"d"},{"t":2226,"v":20,"d":"u"},
{"t":2229,"v":18,"d":"u"},{"t":2232,"v":55,"d":"u"},{"t":2235,"v":22,"d":"u"},{"t":2238,"v":16,"d":"d"},{"t":2241,"v":14,"d":"u"},{"t":2244,"v":20,"d":"d"},{"t":2247,"v":57,"d":"d"},{"t":2250,"v":15,"d":"d"},{"t":2253,"v":18,"d":"u"},{"t":2256,"v":44,"d":"u"},
{"t":2259,"v":16,"d":"d"},{"t":2262,"v":22,"d":"u"},{"t":2265,"v":14,"d":"d"},{"t":2268,"v":18,"d":"u"},{"t":2271,"v":12,"d":"d"},{"t":2274,"v":20,"d":"d"},{"t":2277,"v":39,"d":"d"},{"t":2280,"v":18,"d":"u"},{"t":2283,"v":14,"d":"u"},{"t":2286,"v":16,"d":"d"},
{"t":2289,"v":12,"d":"u"},{"t":2292,"v":16,"d":"u"},{"t":2295,"v":18,"d":"u"},{"t":2298,"v":10,"d":"d"},{"t":2301,"v":14,"d":"u"},{"t":2304,"v":12,"d":"u"},{"t":2307,"v":20,"d":"u"},{"t":2310,"v":15,"d":"d"},{"t":2313,"v":11,"d":"u"},{"t":2316,"v":17,"d":"u"},
{"t":2319,"v":22,"d":"u"},{"t":2322,"v":66,"d":"d"},{"t":2325,"v":18,"d":"d"},{"t":2328,"v":14,"d":"u"},{"t":2331,"v":20,"d":"u"},{"t":2334,"v":12,"d":"d"},{"t":2337,"v":16,"d":"u"},{"t":2340,"v":18,"d":"d"},{"t":2343,"v":24,"d":"u"},{"t":2346,"v":39,"d":"u"},
{"t":2349,"v":14,"d":"u"},{"t":2352,"v":18,"d":"u"},{"t":2355,"v":22,"d":"u"},{"t":2358,"v":16,"d":"u"},{"t":2361,"v":20,"d":"d"},{"t":2364,"v":26,"d":"u"},{"t":2367,"v":18,"d":"d"},{"t":2370,"v":14,"d":"u"},{"t":2373,"v":20,"d":"d"},{"t":2376,"v":16,"d":"u"},
{"t":2379,"v":18,"d":"d"},{"t":2382,"v":22,"d":"u"},{"t":2385,"v":26,"d":"u"},{"t":2388,"v":40,"d":"u"},{"t":2391,"v":30,"d":"u"},{"t":2394,"v":35,"d":"u"},{"t":2397,"v":28,"d":"u"},{"t":2400,"v":103,"d":"u"},{"t":2403,"v":45,"d":"u"},{"t":2406,"v":55,"d":"d"},
{"t":2409,"v":19,"d":"d"}
]
},
"layer":[
{"layer":[
{"data":{"name":"price"},
 "mark":{"type":"area","color":{"gradient":"linear","x1":0,"y1":0,"x2":0,"y2":1,"stops":[{"offset":0,"color":"rgba(41,98,255,0.22)"},{"offset":1,"color":"rgba(41,98,255,0.02)"}]}},
 "encoding":{
  "x":{"field":"t","type":"quantitative","title":null,"scale":{"domain":[998.5,2419.8],"zero":false,"nice":false,"padding":0},
   "axis":{"values":[1080,1260,1440,1620,1800,1980,2160,2340],"labelExpr":"datum.value == 1440 ? '8' : ((floor(datum.value/60) % 24) < 10 ? '0' : '') + (floor(datum.value/60) % 24) + ':00'","grid":true,"gridColor":"#eef1f6","gridWidth":1,"domain":false,"ticks":false,"tickSize":0,"labelPadding":32,"labelBaseline":"middle","labelFontSize":25,"labelColor":"#131722","labelFont":"Inter","labelFlush":false,"labelOverlap":false,"labelFontWeight":{"condition":{"test":"datum.value == 1440","value":"bold"},"value":"normal"}}},
  "y":{"field":"p","type":"quantitative","title":null,"scale":{"domain":[18995.3,19495.2],"zero":false,"nice":false},
   "axis":{"orient":"right","values":[19000,19025,19050,19075,19100,19125,19150,19175,19200,19225,19250,19275,19300,19325,19350,19375,19400,19425,19450,19475],"labelExpr":"(datum.value > 19460 || datum.value == 19375) ? '' : format(datum.value, '.2f')","grid":true,"gridColor":"#eef1f6","gridWidth":1,"domain":false,"ticks":false,"tickSize":0,"labelPadding":23,"labelAlign":"left","labelBaseline":"middle","labelFontSize":25,"labelColor":"#131722","labelFont":"Inter","labelFlush":false,"labelOverlap":false}},
  "y2":{"datum":18995.3}
 }},
{"data":{"name":"price"},"mark":{"type":"line","color":"#2962ff","strokeWidth":3.5,"strokeJoin":"round"},
 "encoding":{"x":{"field":"t","type":"quantitative","title":null},"y":{"field":"p","type":"quantitative","title":null}}},
{"data":{"values":[{}]},"mark":{"type":"rule","color":"#2962ff","strokeWidth":1.5,"strokeDash":[1.5,3.5]},"encoding":{"y":{"datum":19379.34}}},
{"data":{"values":[{}]},"mark":{"type":"rect","fill":"transparent","stroke":"#e0e3eb","strokeWidth":1.2},
 "encoding":{"x":{"datum":998.5},"x2":{"datum":2577.8},"y":{"datum":19495.2},"y2":{"datum":18972.0}}},
{"data":{"values":[{}]},"mark":{"type":"rect","color":"#2962ff","cornerRadius":3},
 "encoding":{"x":{"datum":2420.8},"x2":{"datum":2566.8},"y":{"datum":19386.3},"y2":{"datum":19361.4}}},
{"data":{"values":[{}]},"mark":{"type":"text","text":"19379.34","align":"left","baseline":"middle","fontSize":24,"color":"#ffffff","font":"Inter"},
 "encoding":{"x":{"datum":2442.8},"y":{"datum":19380.0}}},
{"data":{"values":[{}]},"mark":{"type":"text","text":"00:21","align":"left","baseline":"middle","fontSize":24,"color":"#ffffff","font":"Inter","opacity":0.85},
 "encoding":{"x":{"datum":2442.8},"y":{"datum":19367.6}}},
{"data":{"values":[{}]},"mark":{"type":"text","text":"USD","align":"left","baseline":"middle","fontSize":25,"color":"#131722","font":"Inter"},
 "encoding":{"x":{"datum":2442.8},"y":{"datum":19484.6}}},
{"data":{"values":[{}]},"mark":{"type":"text","text":"Bitcoin / U.S. Dollar, 1, COINBASE","align":"left","baseline":"middle","fontSize":24,"color":"#131722","font":"Inter"},
 "encoding":{"x":{"datum":1013.8},"y":{"datum":19482.1}}},
{"data":{"values":[{}]},"mark":{"type":"text","text":"19379.34  −8.29 (−0.04%)","align":"left","baseline":"middle","fontSize":24,"color":"#2962ff","font":"Inter"},
 "encoding":{"x":{"datum":1404.8},"y":{"datum":19482.1}}},
{"data":{"values":[{}]},"mark":{"type":"text","text":"Vol","align":"left","baseline":"middle","fontSize":24,"color":"#131722","font":"Inter"},
 "encoding":{"x":{"datum":1013.8},"y":{"datum":19468.1}}},
{"data":{"values":[{}]},"mark":{"type":"text","text":"19","align":"left","baseline":"middle","fontSize":24,"color":"#ef5350","font":"Inter"},
 "encoding":{"x":{"datum":1062.8},"y":{"datum":19468.1}}},
{"data":{"values":[{}]},"mark":{"type":"text","text":"TradingView","align":"left","baseline":"middle","fontSize":26,"color":"#131722","font":"Inter"},
 "encoding":{"x":{"datum":1044.8},"y":{"datum":18956.9}}},
{"data":{"values":[{}]},"mark":{"type":"point","shape":"M-1,-0.57L-0.04,-0.57L-0.04,0.57L-0.48,0.57L-0.48,-0.15L-1,-0.15Z M0.5,-0.57L1,-0.57L0.52,0.57L0.02,0.57Z M0,-0.27A0.22,0.22 0 1,0 0.44,-0.27A0.22,0.22 0 1,0 0,-0.27Z","size":1444,"filled":true,"color":"#131722","opacity":1,"strokeWidth":0},
 "encoding":{"x":{"datum":1017.6},"y":{"datum":18956.9}}}
]},
{"layer":[
{"data":{"name":"vol"},"mark":{"type":"bar","size":2.5,"opacity":0.5},
 "encoding":{"x":{"field":"t","type":"quantitative","title":null,"scale":{"padding":0}},
  "y":{"field":"v","type":"quantitative","scale":{"domain":[0,627],"nice":false,"zero":true},"axis":null},
  "color":{"field":"d","type":"nominal","scale":{"domain":["u","d"],"range":["#26a69a","#ef5350"]},"legend":null}}},
{"data":{"values":[{}]},"mark":{"type":"rect","color":"#ef5350","cornerRadius":3},
 "encoding":{"x":{"datum":2420.8},"x2":{"datum":2485.8},"y":{"datum":10.8,"axis":null},"y2":{"datum":27.2}}},
{"data":{"values":[{}]},"mark":{"type":"text","text":"19","align":"left","baseline":"middle","fontSize":23,"color":"#ffffff","font":"Inter"},
 "encoding":{"x":{"datum":2442.8},"y":{"datum":19.5,"axis":null}}}
]}
],
"resolve":{"scale":{"y":"independent"}}
}
